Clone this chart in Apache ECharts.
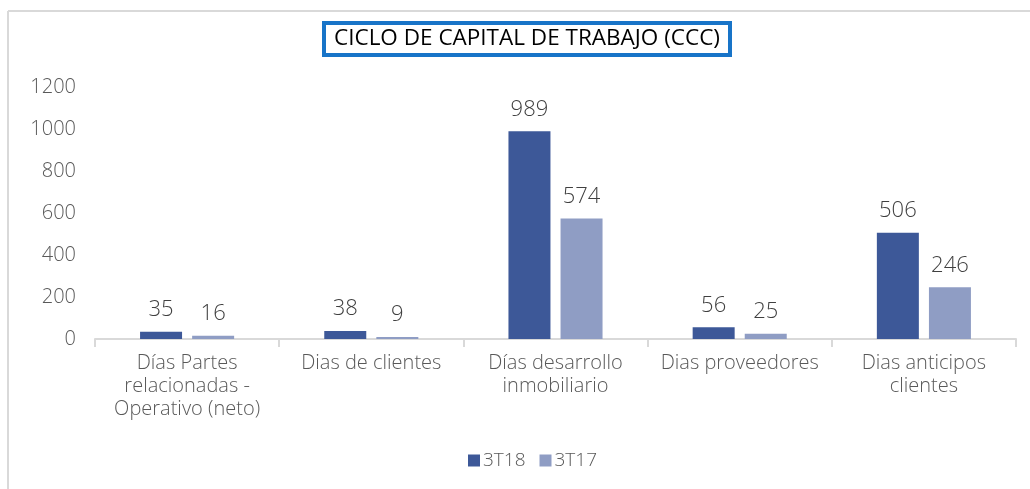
<!DOCTYPE html>
<html><head><meta charset="utf-8">
<script src="https://cdn.jsdelivr.net/npm/echarts@6/dist/echarts.min.js"></script>
<style>html,body{margin:0;padding:0;background:#fff}#c{width:1030px;height:489px}</style>
</head><body><div id="c"></div>
<script>
const categories = ['Días Partes\nrelacionadas -\nOperativo (neto)', 'Dias de clientes', 'Días desarrollo\ninmobiliario', 'Dias proveedores', 'Dias anticipos\nclientes'];
const series3T18 = [35, 38, 989, 56, 506];
const series3T17 = [16, 9, 574, 25, 246];
const seriesNames = ['3T18', '3T17'];
const yTicks = [0, 200, 400, 600, 800, 1000, 1200];

const FONT = '"Open Sans", Lato, sans-serif';
const chart = echarts.init(document.getElementById('c'));
chart.setOption({
  animation: false,
  backgroundColor: '#fff',
  graphic: [
    { type: 'line', shape: { x1: 8, y1: 11, x2: 1030, y2: 11 }, style: { stroke: '#d9d9d9', lineWidth: 2 } },
    { type: 'line', shape: { x1: 8, y1: 11, x2: 8, y2: 489 }, style: { stroke: '#d9d9d9', lineWidth: 2 } }
  ],
  title: {
    text: 'CICLO DE CAPITAL DE TRABAJO (CCC)',
    left: 324, top: 23,
    padding: [4, 10, 4, 10],
    borderColor: '#1874c8', borderWidth: 4,
    backgroundColor: '#fff',
    textStyle: { fontFamily: FONT, fontSize: 22.5, lineHeight: 24, fontWeight: 'normal', color: '#000' }
  },
  legend: {
    data: seriesNames,
    bottom: 14, left: 463,
    itemWidth: 12, itemHeight: 12, itemGap: 14,
    textStyle: { fontFamily: FONT, fontSize: 19, fontWeight: 300, color: '#595959', padding: [0, 0, 0, -2] },
    icon: 'rect'
  },
  grid: { left: 95, right: 14, top: 87, bottom: 150, containLabel: false },
  xAxis: {
    type: 'category', data: categories,
    axisLine: { lineStyle: { color: '#d9d9d9', width: 2 } },
    axisTick: { show: true, length: 8, lineStyle: { color: '#d9d9d9', width: 2 } },
    axisLabel: { fontFamily: FONT, fontSize: 20, fontWeight: 300, color: '#595959', lineHeight: 23, margin: 13, interval: 0 }
  },
  yAxis: {
    type: 'value', min: 0, max: 1200, interval: 200,
    axisLine: { show: false }, axisTick: { show: false },
    splitLine: { show: false },
    axisLabel: { fontFamily: FONT, fontSize: 20, fontWeight: 300, color: '#595959', margin: 19,
      formatter: v => yTicks.includes(v) ? String(v) : '' }
  },
  series: [
    { name: seriesNames[0], type: 'bar', data: series3T18, barWidth: 42, barGap: '24%',
      itemStyle: { color: '#3d5898' },
      label: { show: true, position: 'top', distance: 11, fontFamily: FONT, fontSize: 22, fontWeight: 300, color: '#404040' } },
    { name: seriesNames[1], type: 'bar', data: series3T17, barWidth: 42,
      itemStyle: { color: '#8f9dc4' },
      label: { show: true, position: 'top', distance: 11, fontFamily: FONT, fontSize: 22, fontWeight: 300, color: '#404040' } }
  ]
});
</script></body></html>
